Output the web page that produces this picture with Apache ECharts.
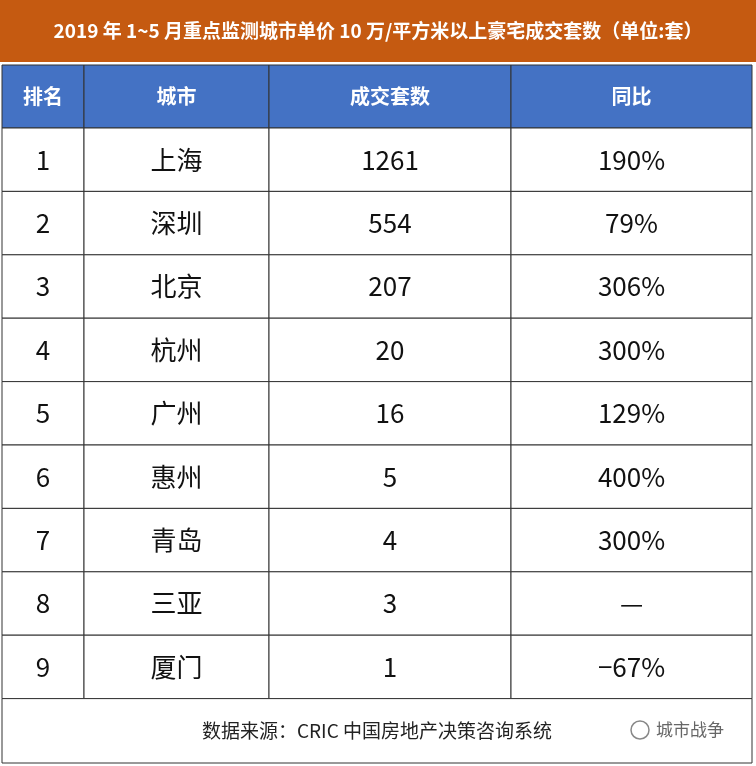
<!DOCTYPE html>
<html><head><meta charset="utf-8">
<script src="https://cdn.jsdelivr.net/npm/echarts@6/dist/echarts.min.js"></script>
<style>html,body{margin:0;padding:0;background:#fff}#c{width:756px;height:766px}</style>
</head><body><div id="c"></div>
<script>
const title = '2019 年 1~5 月重点监测城市单价 10 万/平方米以上豪宅成交套数（单位:套）';
const headers = ['排名', '城市', '成交套数', '同比'];
const ranks = ['1','2','3','4','5','6','7','8','9'];
const cities = ['上海','深圳','北京','杭州','广州','惠州','青岛','三亚','厦门'];
const deals = [1261, 554, 207, 20, 16, 5, 4, 3, 1];
const yoy = ['190%','79%','306%','300%','129%','400%','300%','—','−67%'];
const source = '数据来源：CRIC 中国房地产决策咨询系统';
const watermark = '城市战争';

// layout (pixel space mapped through value axes)
const colEdges = [2, 84, 269, 511, 752];
const titleBand = [0, 62];
const headBand = [65, 128];
const rowH = 63.4;
const footBand = [128 + rowH * 9, 763];

const cells = [];
cells.push({x0:0,x1:756,y0:titleBand[0],y1:titleBand[1],fill:'#C55A11',text:title,color:'#fff',font:'bold 19px "Noto Sans CJK SC"',stroke:null});
headers.forEach((h,i)=>cells.push({x0:colEdges[i],x1:colEdges[i+1],y0:headBand[0],y1:headBand[1],fill:'#4472C4',text:h,color:'#fff',font:'bold 20px "Noto Sans CJK SC"',stroke:'#333'}));
ranks.forEach((r,j)=>{
  const vals=[r,cities[j],String(deals[j]),yoy[j]];
  vals.forEach((v,i)=>cells.push({x0:colEdges[i],x1:colEdges[i+1],y0:headBand[1]+rowH*j,y1:headBand[1]+rowH*(j+1),fill:'#fff',text:v,color:'#111',font:'26px "Noto Sans CJK SC"',stroke:'#333'}));
});
cells.push({x0:colEdges[0],x1:colEdges[4],y0:footBand[0],y1:footBand[1],fill:'#fff',text:source,color:'#222',font:'19px "Noto Sans CJK SC"',stroke:'#333'});

const chart = echarts.init(document.getElementById('c'));
chart.setOption({
  animation:false,
  grid:{left:0,right:0,top:0,bottom:0},
  xAxis:{type:'value',min:0,max:756,show:false},
  yAxis:{type:'value',min:0,max:766,inverse:true,show:false},
  series:[{
    type:'custom',
    data:cells.map((c,i)=>[c.x0,c.y0,c.x1,c.y1,i]),
    renderItem:(params,api)=>{
      const c=cells[api.value(4)];
      const p0=api.coord([api.value(0),api.value(1)]);
      const p1=api.coord([api.value(2),api.value(3)]);
      return {type:'group',children:[
        {type:'rect',shape:{x:p0[0],y:p0[1],width:p1[0]-p0[0],height:p1[1]-p0[1]},
         style:{fill:c.fill,stroke:c.stroke||null,lineWidth:c.stroke?1:0}},
        {type:'text',style:{x:(p0[0]+p1[0])/2,y:(p0[1]+p1[1])/2,text:c.text,fill:c.color,font:c.font,align:'center',verticalAlign:'middle'}}
      ]};
    }
  },{
    type:'custom',
    data:[[700,730]],
    renderItem:(params,api)=>{
      const p=api.coord([api.value(0),api.value(1)]);
      return {type:'group',children:[
        {type:'circle',shape:{cx:p[0]-60,cy:p[1],r:9},style:{fill:'none',stroke:'#888',lineWidth:1.5}},
        {type:'text',style:{x:p[0]-44,y:p[1],text:watermark,fill:'#666',font:'17px "Noto Sans CJK SC"',align:'left',verticalAlign:'middle'}}
      ]};
    }
  }]
});
</script></body></html>
